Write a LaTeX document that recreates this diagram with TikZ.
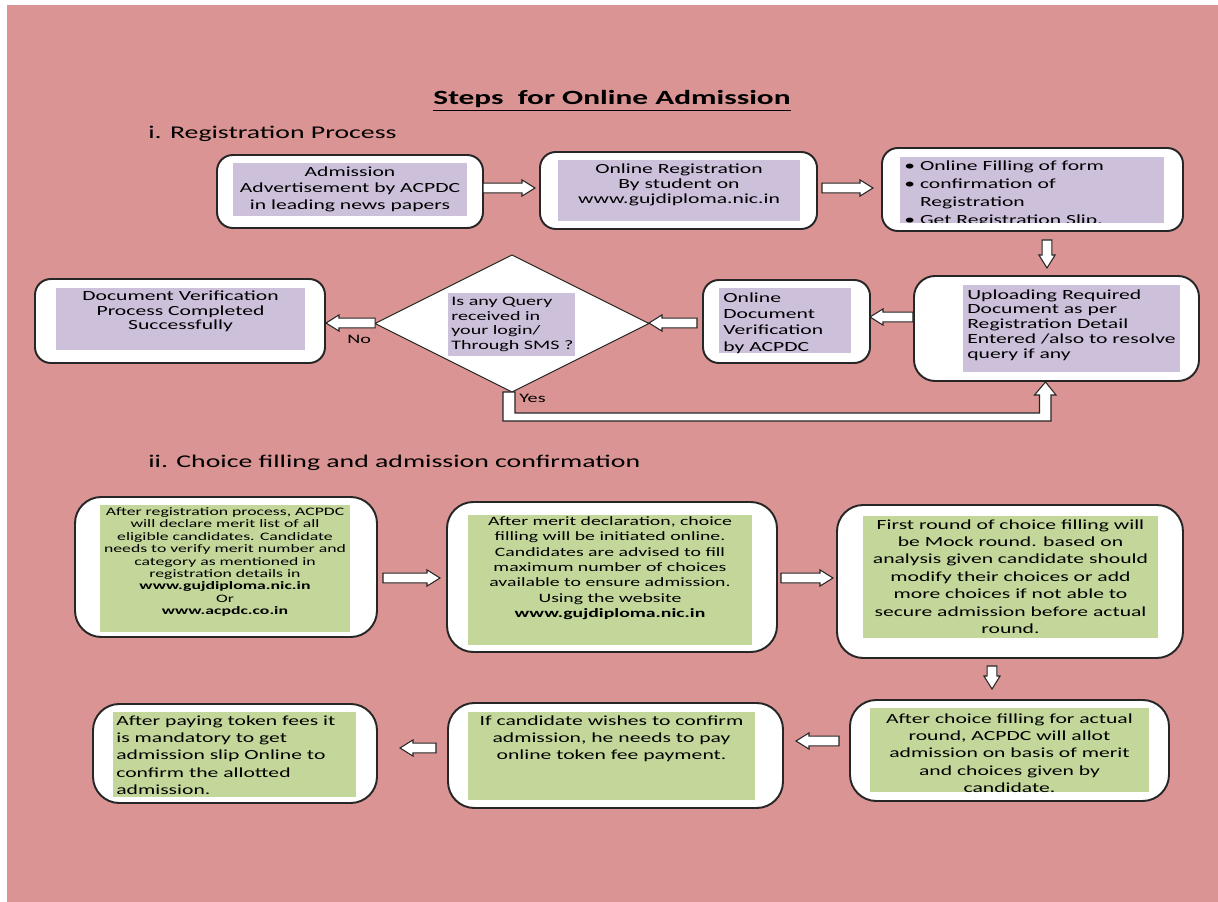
\documentclass[tikz,border=0pt]{standalone}
\usepackage{fontspec}
\setmainfont{Carlito}[FakeStretch=1.55]
\usetikzlibrary{shapes.geometric,fit,calc}
\definecolor{pagebg}{RGB}{217,148,147}
\definecolor{lilac}{RGB}{204,192,218}
\definecolor{sage}{RGB}{196,215,155}
\tikzset{
  card/.style={draw=black!85, fill=white, line width=1.1pt, rounded corners=9pt, inner sep=0pt, outer sep=0pt},
  bigcard/.style={card, rounded corners=15pt},
  lil/.style={fill=lilac, inner sep=0pt, outer sep=0pt},
  sag/.style={fill=sage, inner sep=0pt, outer sep=0pt},
  tx/.style={inner sep=0pt, align=center, anchor=north, font=\fontsize{7.94pt}{9.64pt}\selectfont},
  txl/.style={tx, align=left, anchor=north west},
  barrow/.style={draw=black!85, fill=white, line width=0.6pt, line join=miter},
}
% block arrow from #1 to #2
\newcommand{\blk}[2]{\draw[barrow] let \p1=(#1), \p2=(#2), \n1={atan2(\y2-\y1,\x2-\x1)}, \n2={veclen(\x2-\x1,\y2-\y1)} in
  [shift={(\p1)}, rotate=\n1] (0pt,-2.8pt) -- ({\n2*1pt-7.4pt},-2.8pt) -- ({\n2*1pt-7.4pt},-4.6pt) -- ({\n2*1pt},0pt)
  -- ({\n2*1pt-7.4pt},4.6pt) -- ({\n2*1pt-7.4pt},2.8pt) -- (0pt,2.8pt) -- cycle;}
\begin{document}
\begin{tikzpicture}[x=0.02cm, y=-0.02cm]
\useasboundingbox (0,0) rectangle (1218,902);
\fill[white] (0,0) rectangle (1218,902);
\fill[pagebg] (7,5) rectangle (1218,902);

% headings
\node[font=\bfseries\fontsize{11.5pt}{13pt}\selectfont, inner sep=0pt] (title) at (612,101) {\underline{Steps\ \ for Online Admission}};
\node[font=\fontsize{10.2pt}{12pt}\selectfont, inner sep=0pt, anchor=base west] (secone) at (148,139) {i. Registration Process};
\node[font=\fontsize{10.2pt}{12pt}\selectfont, inner sep=0pt, anchor=base west] (sectwo) at (148,467) {ii. Choice filling and admission confirmation};

% i. registration process
\node[card, fit={(217,155) (483,228)}] (adv) {};
\node[lil, fit={(233,163) (467,216)}] (advin) {};
\node[tx] (advtx) at (350,166) {Admission\\Advertisement by ACPDC\\in leading news papers};

\node[card, fit={(540,152) (817,229)}] (reg) {};
\node[lil, fit={(558,160) (800,221)}] (regin) {};
\node[tx, font=\fontsize{7.94pt}{8.5pt}\selectfont] (regtx) at (679,163.5) {Online Registration\\By student on\\www.gujdiploma.nic.in};

\node[card, fit={(882,148) (1183,231)}] (fill) {};
\node[lil, fit={(900,157) (1164,223)}] (fillin) {};
\begin{scope}
\clip (900,157) rectangle (1164,223);
\node[txl, font=\fontsize{7.94pt}{10.2pt}\selectfont] (filltx) at (904,160.5) {\textbullet\ Online Filling of form\\\textbullet\ confirmation of\\\phantom{\textbullet\ }Registration\\\textbullet\ Get Registration Slip.};
\end{scope}

\node[card, rounded corners=12pt, fit={(914,276) (1199,381)}] (upl) {};
\node[lil, fit={(963,285) (1180,372)}] (uplin) {};
\node[txl, font=\fontsize{7.94pt}{8.5pt}\selectfont] (upltx) at (967,289) {Uploading Required\\Document as per\\Registration Detail\\Entered /also to resolve\\query if any};

\node[card, fit={(703,280) (870,363)}] (ver) {};
\node[lil, fit={(719,288) (851,353)}] (verin) {};
\node[txl, font=\fontsize{7.94pt}{9.35pt}\selectfont] (vertx) at (723,292) {Online\\Document\\Verification\\by ACPDC};

\node[diamond, draw=black!85, fill=white, line width=0.6pt, minimum width=5.48cm, minimum height=2.74cm, inner sep=0pt, outer sep=0pt] (qry) at (512,323.5) {};
\node[lil, fit={(448,293) (575,356)}] (qryin) {};
\node[txl, font=\fontsize{7.37pt}{8.22pt}\selectfont] (qrytx) at (451,297) {Is any Query\\received in\\your login/\\Through SMS ?};

\node[card, fit={(35,279) (325,363)}] (done) {};
\node[lil, fit={(56,288) (305,350)}] (donein) {};
\node[tx, font=\fontsize{7.94pt}{8.22pt}\selectfont] (donetx) at (180.5,291) {Document Verification\\Process Completed\\Successfully};

\blk{$(adv.east)+(0,-3.5)$}{$(reg.west)+(-5,-2.5)$}
\blk{$(reg.east)+(5,-2.5)$}{$(fill.west)+(-9,-1.5)$}
\blk{$(fill.south)+(14.5,9)$}{$(upl.north)+(-9.5,-8)$}
\blk{$(upl.west)+(-1,-11.5)$}{$(ver.east)+(0,-4.5)$}
\blk{$(ver.west)+(-6,1.5)$}{$(qry.east)+(0,-0.5)$}
\blk{$(qry.west)+(0,-0.5)$}{$(done.east)+(1,2)$}
\node[font=\fontsize{7.4pt}{8pt}\selectfont, inner sep=0pt, anchor=base west] (no) at (347,344) {No};

% yes: back to upload
\draw[barrow] ($(qry.south)+(-9,0)$) -- ($(qry.south)+(-9,29)$) -| ($(upl.south)+(-5.5,14)$) -- ++(5,0)
  -- ($(upl.south)+(-11,1)$) -- ++(-11,13) -- ++(5,0) |- ($(qry.south)+(3,21)$) -- ($(qry.south)+(3,0)$) -- cycle;
\node[font=\fontsize{7.4pt}{8pt}\selectfont, inner sep=0pt, anchor=base west] (yes) at (519,402) {Yes};

% ii. choice filling
\node[bigcard, fit={(75,497) (377,637)}] (merit) {};
\node[sag, fit={(100,505) (350,632)}] (meritin) {};
\node[tx, font=\fontsize{6.5pt}{7.09pt}\selectfont] (merittx) at (225,507) {After registration process, ACPDC\\will declare merit list of all\\eligible candidates. Candidate\\needs to verify merit number and\\category as mentioned in\\registration details in\\\textbf{www.gujdiploma.nic.in}\\Or\\\textbf{www.acpdc.co.in}};

\node[bigcard, fit={(447,502) (777,652)}] (choice) {};
\node[sag, fit={(468,515) (752,645)}] (choicein) {};
\node[tx, font=\fontsize{7.25pt}{8.79pt}\selectfont] (choicetx) at (610,516) {After merit declaration, choice\\filling will be initiated online.\\Candidates are advised to fill\\maximum number of choices\\available to ensure admission.\\Using the website\\\textbf{www.gujdiploma.nic.in}};

\node[bigcard, fit={(837,505) (1183,658)}] (mock) {};
\node[sag, fit={(863,516) (1158,638)}] (mockin) {};
\node[tx, font=\fontsize{7.94pt}{9.92pt}\selectfont] (mocktx) at (1010.5,519) {First round of choice filling will\\be Mock round. based on\\analysis given candidate should\\modify their choices or add\\more choices if not able to\\secure admission before actual\\round.};

\node[bigcard, fit={(850,700) (1169,801)}] (allot) {};
\node[sag, fit={(870,708) (1149,792)}] (allotin) {};
\node[tx, font=\fontsize{7.94pt}{9.92pt}\selectfont] (allottx) at (1009.5,713) {After choice filling for actual\\round, ACPDC will allot\\admission on basis of merit\\and choices given by\\candidate.};

\node[bigcard, fit={(448,703) (783,808)}] (pay) {};
\node[sag, fit={(468,712) (755,800)}] (payin) {};
\node[tx, font=\fontsize{7.94pt}{9.64pt}\selectfont] (paytx) at (611.5,715.5) {If candidate wishes to confirm\\admission, he needs to pay\\online token fee payment.};

\node[bigcard, fit={(93,704) (377,803)}] (slip) {};
\node[sag, fit={(113,712) (356,797)}] (slipin) {};
\node[txl, font=\fontsize{7.94pt}{9.92pt}\selectfont] (sliptx) at (116,715) {After paying token fees it\\is mandatory to get\\admission slip Online to\\confirm the allotted\\admission.};

\blk{$(merit.east)+(6,11)$}{$(choice.west)+(-7,1)$}
\blk{$(choice.east)+(4,1)$}{$(mock.west)+(-4,-3.5)$}
\blk{$(mock.south)+(-18,8)$}{$(allot.north)+(-17.5,-11)$}
\blk{$(allot.west)+(-11,-9.5)$}{$(pay.east)+(13,-14.5)$}
\blk{$(pay.west)+(-12,-7.5)$}{$(slip.east)+(23,-5.5)$}
\end{tikzpicture}
\end{document}
